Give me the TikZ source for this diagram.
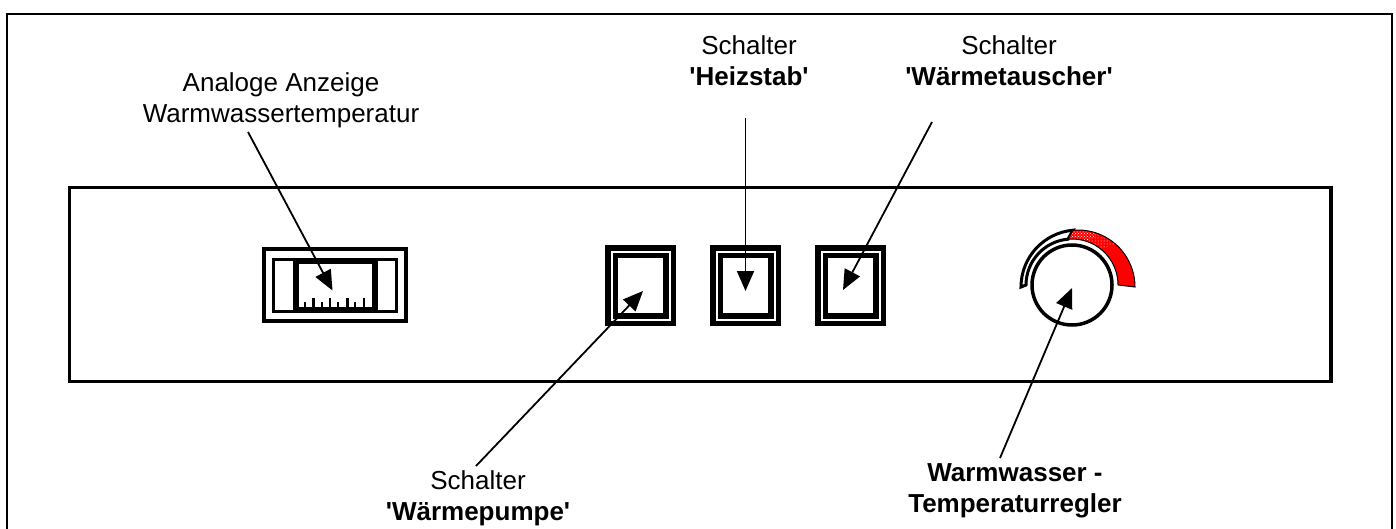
\documentclass[tikz,border=0pt]{standalone}
\usepackage{fontspec}
\setmainfont{Liberation Sans}
\usetikzlibrary{arrows.meta,patterns}
\newcommand\sq{\textquotesingle}
\begin{document}
\begin{tikzpicture}[x=1pt,y=-1pt,
  lbl/.style={align=center,font=\fontsize{26}{31}\selectfont,inner sep=0pt,anchor=base},
  ptr/.style={line width=1.8pt,-{Triangle[length=20pt,width=17pt]}},
  switchbox/.style={draw,double,double distance=2pt,line width=5.5pt,
    minimum width=58pt,minimum height=68pt,inner sep=0pt},
  box/.style={draw,inner sep=0pt},
]
\useasboundingbox (0,0) rectangle (1396,529);

% outer frame (open at the bottom)
\draw[line width=2pt] (7,529) -- (7,14) -- (1392,14) -- (1392,529);

% control panel
\node[box,line width=3.5pt,minimum width=1261.5pt,minimum height=194pt] (panel) at (700.25,284.5) {};

% analogue temperature display
\node[box,line width=4pt,minimum width=142pt,minimum height=72pt] (disp) at (335,285) {};
\node[box,line width=3pt,minimum width=123pt,minimum height=52pt] (dispin) at (335,285.5) {};
\node[box,line width=6pt,minimum width=79pt,minimum height=49pt] (window) at (335.5,285.5) {};
% scale ticks
\foreach \x in {305,322,338,355} \draw[line width=1.5pt] (\x,307) -- (\x,302);
\foreach \x in {330,364} \draw[line width=1.5pt] (\x,307) -- (\x,298);
\foreach \x in {313,347} \draw[line width=3pt] (\x,307) -- (\x,298);

% switches
\node[switchbox] (pump) at (640.5,285.5) {};
\node[switchbox] (heiz) at (745.5,285.5) {};
\node[switchbox] (tausch) at (850.5,285.5) {};

% temperature ring of the knob
\draw[line width=3pt,fill=white]
  ([shift={(1078,287)}]180:57) arc[start angle=180,end angle=265,radius=57]
  -- ([shift={(1072,285)}]265:46) arc[start angle=265,end angle=180,radius=46] -- cycle;
\draw[line width=1pt,fill=red]
  ([shift={(1078,287)}]265:57) arc[start angle=265,end angle=360,radius=57]
  -- ([shift={(1072,285)}]360:46) arc[start angle=360,end angle=265,radius=46] -- cycle;
\fill[pattern=crosshatch dots,pattern color=white]
  ([shift={(1078,287)}]266:56) arc[start angle=266,end angle=290,radius=56]
  -- ([shift={(1072,285)}]290:47) arc[start angle=290,end angle=266,radius=47] -- cycle;
\fill[pattern=dots,pattern color=white]
  ([shift={(1078,287)}]290:56) arc[start angle=290,end angle=310,radius=56]
  -- ([shift={(1072,285)}]310:47) arc[start angle=310,end angle=290,radius=47] -- cycle;

% knob
\node[box,circle,line width=3.5pt,minimum size=80pt,fill=white] (knob) at (1072,285) {};

% labels (anchored at the baseline of their last line)
\node[lbl] (lblDisp) at (281,123) {Analoge Anzeige\\Warmwassertemperatur};
\node[lbl] (lblHeiz) at (749,86) {Schalter\\\textbf{\sq Heizstab\sq}};
\node[lbl] (lblTausch) at (1009,86) {Schalter\\\textbf{\sq W\"armetauscher\sq}};
\node[lbl] (lblPump) at (478,520) {Schalter\\\textbf{\sq W\"armepumpe\sq}};
\node[lbl] (lblRegler) at (1015,512) {\textbf{Warmwasser -}\\\textbf{Temperaturregler}};

% pointer ends
\coordinate (sDisp) at (248,132);
\coordinate (tDisp) at ([shift={(-3,5)}]window.center);
\coordinate (sPump) at (476,466);
\coordinate (tPump) at ([shift={(2.5,5.5)}]pump.center);
\coordinate (sHeiz) at (745.5,118);
\coordinate (tHeiz) at ([shift={(0,5.5)}]heiz.center);
\coordinate (sTausch) at (932,122);
\coordinate (tTausch) at ([shift={(-7.5,4.5)}]tausch.center);
\coordinate (sRegler) at (1000,458);
\coordinate (tRegler) at ([shift={(0,3)}]knob.center);

% pointers
\draw[ptr] (sDisp) -- (tDisp);
\draw[ptr] (sPump) -- (tPump);
\draw[ptr] (sHeiz) -- (tHeiz);
\draw[ptr] (sTausch) -- (tTausch);
\draw[ptr] (sRegler) -- (tRegler);
\end{tikzpicture}
\end{document}
